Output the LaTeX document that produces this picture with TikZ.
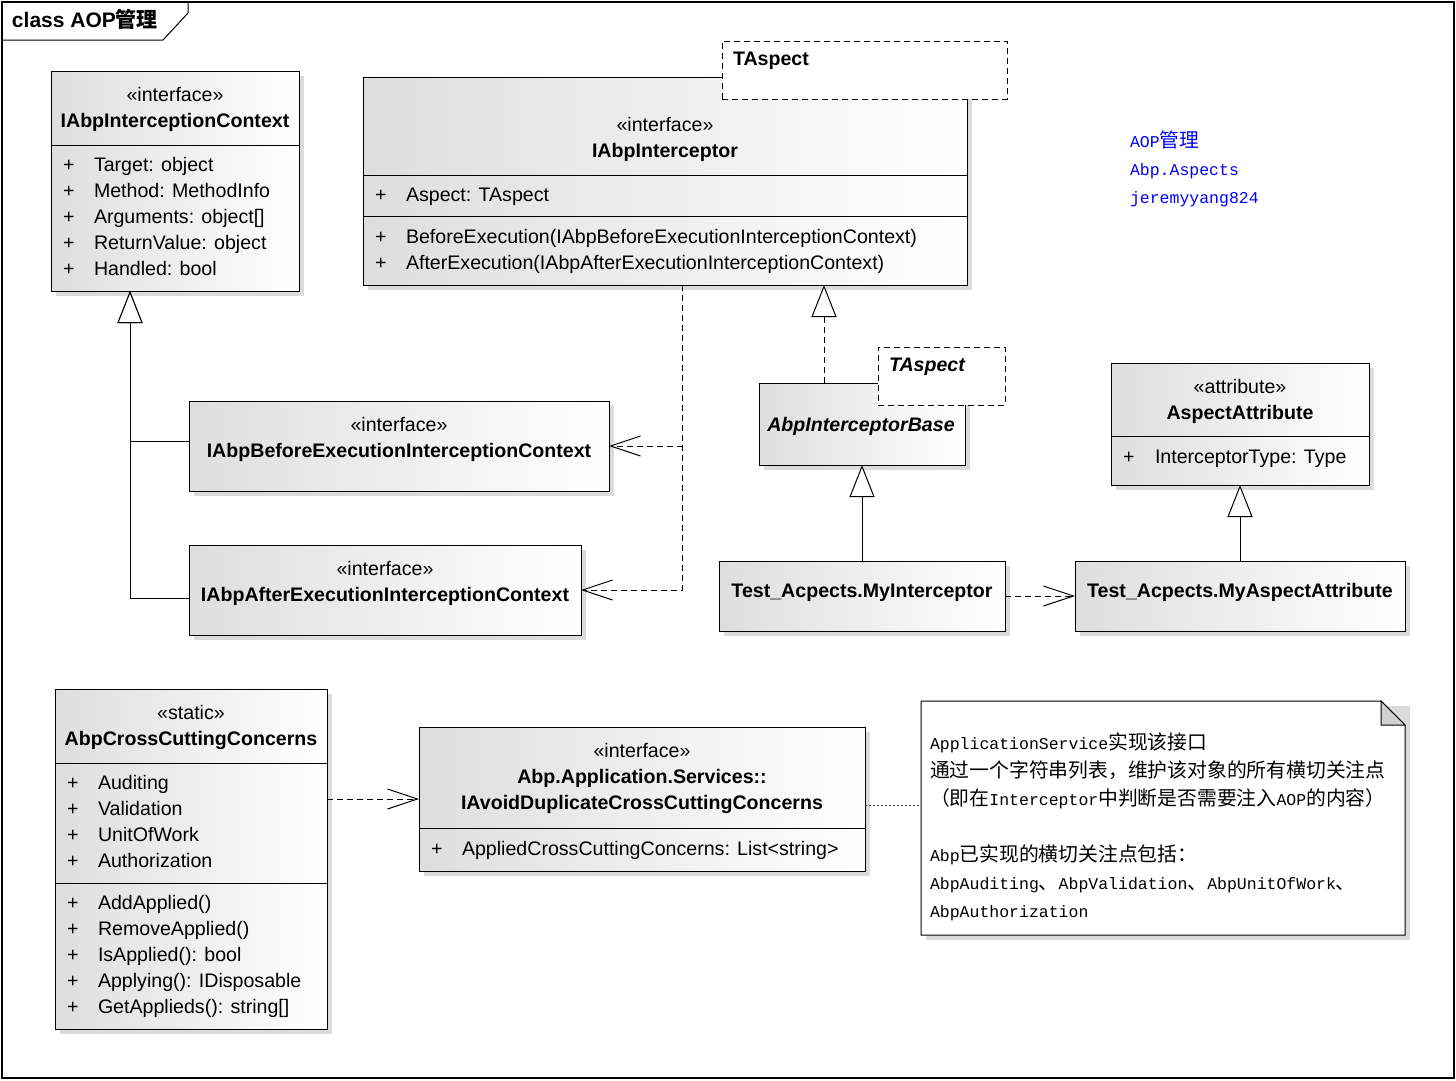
\documentclass[tikz,border=0pt]{standalone}
\usepackage{fontspec}
\setmainfont{Liberation Sans}
\newfontfamily\cjk{Noto Sans CJK SC}
\newfontfamily\monof{Liberation Mono}
\usetikzlibrary{arrows.meta,calc,shadows}
\newcommand\zh[1]{{\cjk\fontsize{19.8}{28}\selectfont #1}}
\newcommand\lt[1]{{\monof\fontsize{16.5}{28}\selectfont #1}}
\definecolor{bluetxt}{RGB}{0,0,255}
\tikzset{
  cls/.style={draw=black, line width=1pt, left color=black!13, right color=white,
    drop shadow={shadow xshift=5pt, shadow yshift=-5pt, fill=black!14, opacity=1},
    anchor=north west, inner sep=0pt, outer sep=0pt},
  tmpl/.style={draw=black, line width=1pt, dash pattern=on 6pt off 4pt, fill=white,
    anchor=north west, inner sep=0pt, outer sep=0pt},
  txt/.style={inner sep=0pt, outer sep=0pt, font=\fontsize{19.6}{24}\selectfont},
  btxt/.style={inner sep=0pt, outer sep=0pt, font=\fontsize{19.6}{24}\selectfont\bfseries},
  bitxt/.style={inner sep=0pt, outer sep=0pt, font=\fontsize{19.6}{24}\selectfont\bfseries\itshape},
  notetxt/.style={inner sep=0pt, outer sep=0pt, anchor=base west},
  sepline/.style={line width=1pt},
  genline/.style={line width=1pt, -{Triangle[length=32pt, width=25pt, fill=white, line width=1pt]}},
  realline/.style={line width=1pt, dash pattern=on 6pt off 4pt, -{Triangle[length=32pt, width=25pt, fill=white, line width=1pt]}},
  depline/.style={line width=1pt, dash pattern=on 6pt off 4pt, -{Straight Barb[length=30pt, width=20pt, line width=1pt]}},
  noteline/.style={line width=1pt, dash pattern=on 2pt off 2pt, black!80},
}
\begin{document}
\begin{tikzpicture}[x=1pt, y=-1pt, line width=1pt]
\useasboundingbox (0,0) rectangle (1456,1080);
\fill[white] (0,0) rectangle (1456,1080);
% frame
\draw[line width=1.3pt] (2,2) rectangle (1454,1078);
\draw[line width=1pt] (2,40) -- (163,40) -- (188,13) -- (188,2);
\node[btxt, anchor=base west, font=\fontsize{21}{24}\selectfont\bfseries] (title) at (12,27) {class AOP{\cjk 管理}};

% blue texts
\node[notetxt, text=bluetxt] (bl1) at (1130,147) {\lt{AOP}\zh{管理}};
\node[notetxt, text=bluetxt] (bl2) at (1130,175) {\lt{Abp.Aspects}};
\node[notetxt, text=bluetxt] (bl3) at (1130,203) {\lt{jeremyyang824}};

% ---------- boxes ----------
\node[cls, minimum width=248pt, minimum height=220pt] (b1) at (51,71) {};
\node[cls, minimum width=604pt, minimum height=208pt] (b2) at (363,77) {};
\node[tmpl, minimum width=285pt, minimum height=58pt] (t2) at (722,41) {};
\node[cls, minimum width=420pt, minimum height=90pt] (b3) at (189,401) {};
\node[cls, minimum width=392pt, minimum height=90pt] (b4) at (189,545) {};
\node[cls, minimum width=206pt, minimum height=82pt] (b5) at (759,383) {};
\node[tmpl, minimum width=127pt, minimum height=58pt] (t5) at (878,347) {};
\node[cls, minimum width=258pt, minimum height=122pt] (b6) at (1111,363) {};
\node[cls, minimum width=286pt, minimum height=70pt] (b7) at (719,561) {};
\node[cls, minimum width=330pt, minimum height=70pt] (b8) at (1075,561) {};
\node[cls, minimum width=272pt, minimum height=340pt] (b9) at (55,689) {};
\node[cls, minimum width=446pt, minimum height=144pt] (b10) at (419,727) {};

% note
\fill[black!14] (926,706) -- (1410,706) -- (1410,940) -- (926,940) -- cycle;
\draw[fill=white] (921,701) -- (1381,701) -- (1405,725) -- (1405,935) -- (921,935) -- cycle;
\draw[fill=black!18] (1381,701) -- (1381,725) -- (1405,725) -- cycle;
\node[inner sep=0pt, outer sep=0pt, minimum width=484pt, minimum height=234pt, anchor=north west] (note) at (921,701) {};

% ---------- separators ----------
\draw[sepline] (b1.west |- 0,145) -- (b1.east |- 0,145);
\draw[sepline] (b2.west |- 0,175) -- (b2.east |- 0,175);
\draw[sepline] (b2.west |- 0,216) -- (b2.east |- 0,216);
\draw[sepline] (b6.west |- 0,436) -- (b6.east |- 0,436);
\draw[sepline] (b9.west |- 0,763) -- (b9.east |- 0,763);
\draw[sepline] (b9.west |- 0,883) -- (b9.east |- 0,883);
\draw[sepline] (b10.west |- 0,828) -- (b10.east |- 0,828);

% ---------- texts ----------
% b1
\node[txt, anchor=base] (b1s) at (175,101) {«interface»};
\node[btxt, anchor=base] (b1n) at (175,127) {IAbpInterceptionContext};
\foreach \s [count=\i from 0] in {Target: object, Method: MethodInfo, {Arguments: object[]}, ReturnValue: object, Handled: bool} {
  \node[txt, anchor=base west] (b1p\i) at (63,171+26*\i) {+};
  \node[txt, anchor=base west] (b1a\i) at (94,171+26*\i) {\s};
}
% b2
\node[txt, anchor=base] (b2s) at (665,131) {«interface»};
\node[btxt, anchor=base] (b2n) at (665,157) {IAbpInterceptor};
\node[txt, anchor=base west] (b2p0) at (375,201) {+};
\node[txt, anchor=base west] (b2a0) at (406,201) {Aspect: TAspect};
\node[txt, anchor=base west] (b2p1) at (375,243) {+};
\node[txt, anchor=base west] (b2m1) at (406,243) {BeforeExecution(IAbpBeforeExecutionInterceptionContext)};
\node[txt, anchor=base west] (b2p2) at (375,269) {+};
\node[txt, anchor=base west] (b2m2) at (406,269) {AfterExecution(IAbpAfterExecutionInterceptionContext)};
\node[btxt, anchor=base west] (t2n) at (733,65) {TAspect};
% b3, b4
\node[txt, anchor=base] (b3s) at (399,431) {«interface»};
\node[btxt, anchor=base] (b3n) at (399,457) {IAbpBeforeExecutionInterceptionContext};
\node[txt, anchor=base] (b4s) at (385,575) {«interface»};
\node[btxt, anchor=base] (b4n) at (385,601) {IAbpAfterExecutionInterceptionContext};
% b5
\node[bitxt, anchor=base] (b5n) at (861,431) {AbpInterceptorBase};
\node[bitxt, anchor=base west] (t5n) at (889,371) {TAspect};
% b6
\node[txt, anchor=base] (b6s) at (1240,393) {«attribute»};
\node[btxt, anchor=base] (b6n) at (1240,419) {AspectAttribute};
\node[txt, anchor=base west] (b6p) at (1123,463) {+};
\node[txt, anchor=base west] (b6a) at (1155,463) {InterceptorType: Type};
% b7, b8
\node[btxt, anchor=base] (b7n) at (862,597) {Test\_Acpects.MyInterceptor};
\node[btxt, anchor=base] (b8n) at (1240,597) {Test\_Acpects.MyAspectAttribute};
% b9
\node[txt, anchor=base] (b9s) at (191,719) {«static»};
\node[btxt, anchor=base] (b9n) at (191,745) {AbpCrossCuttingConcerns};
\foreach \s [count=\i from 0] in {Auditing, Validation, UnitOfWork, Authorization} {
  \node[txt, anchor=base west] (b9p\i) at (67,789+26*\i) {+};
  \node[txt, anchor=base west] (b9a\i) at (98,789+26*\i) {\s};
}
\foreach \s [count=\i from 0] in {AddApplied(), RemoveApplied(), {IsApplied(): bool}, {Applying(): IDisposable}, {GetApplieds(): string[]}} {
  \node[txt, anchor=base west] (b9q\i) at (67,909+26*\i) {+};
  \node[txt, anchor=base west] (b9m\i) at (98,909+26*\i) {\s};
}
% b10
\node[txt, anchor=base] (b10s) at (642,757) {«interface»};
\node[btxt, anchor=base] (b10n1) at (642,783) {Abp.Application.Services::};
\node[btxt, anchor=base] (b10n2) at (642,809) {IAvoidDuplicateCrossCuttingConcerns};
\node[txt, anchor=base west] (b10p) at (431,855) {+};
\node[txt, anchor=base west] (b10a) at (462,855) {AppliedCrossCuttingConcerns: List<string>};
% note text
\node[notetxt] (n1) at (930,749) {\lt{ApplicationService}\zh{实现该接口}};
\node[notetxt] (n2) at (930,777) {\zh{通过一个字符串列表，维护该对象的所有横切关注点}};
\node[notetxt] (n3) at (930,805) {\zh{（即在}\lt{Interceptor}\zh{中判断是否需要注入}\lt{AOP}\zh{的内容）}};
\node[notetxt] (n4) at (930,861) {\lt{Abp}\zh{已实现的横切关注点包括：}};
\node[notetxt] (n5) at (930,889) {\lt{AbpAuditing}\zh{、}\lt{AbpValidation}\zh{、}\lt{AbpUnitOfWork}\zh{、}};
\node[notetxt] (n6) at (930,917) {\lt{AbpAuthorization}};

% ---------- connectors ----------
\draw[genline] ([yshift=5pt]b3.west) -| ($(b1.south west)+(79,0)$);
\draw[genline] ([yshift=-8pt]b4.west) -| ($(b1.south west)+(79,0)$);
\draw[depline] ($(b2.south west)+(319,0)$) |- (b3.east);
\draw[depline] ($(b2.south west)+(319,0)$) |- (b4.east);
\draw[realline] ($(b5.north west)+(65,0)$) -- ($(b2.south west)+(461,0)$);
\draw[genline] (b7.north) -- (b5.south);
\draw[genline] (b8.north) -- (b6.south);
\draw[depline] (b7.east) -- (b8.west);
\draw[depline] (b10.west -| b9.east) -- (b10.west);
\draw[noteline] ([yshift=-6pt]b10.east) -- ([yshift=13pt]note.west);
\end{tikzpicture}
\end{document}
